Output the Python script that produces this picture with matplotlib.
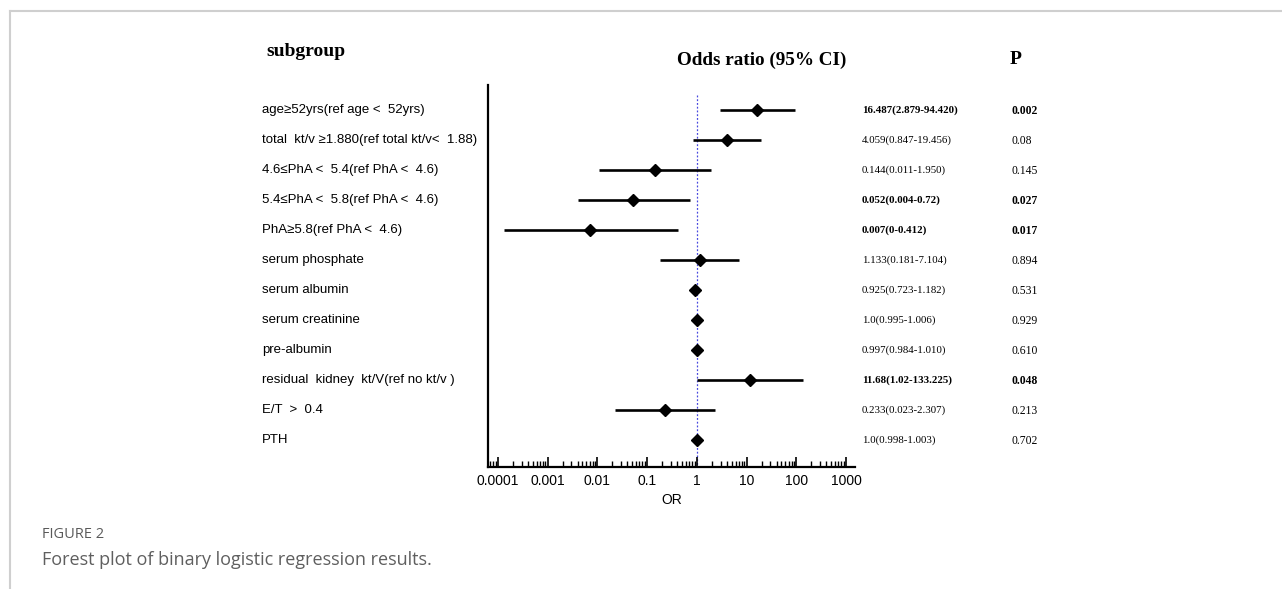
import numpy as np
import matplotlib
matplotlib.use("Agg")
import matplotlib.pyplot as plt
from matplotlib.lines import Line2D
from matplotlib.ticker import LogLocator, FixedLocator, NullFormatter

# data
subgroups = [
    "age\u226552yrs(ref age <  52yrs)",
    "total  kt/v \u22651.880(ref total kt/v<  1.88)",
    "4.6\u2264PhA <  5.4(ref PhA <  4.6)",
    "5.4\u2264PhA <  5.8(ref PhA <  4.6)",
    "PhA\u22655.8(ref PhA <  4.6)",
    "serum phosphate",
    "serum albumin",
    "serum creatinine",
    "pre-albumin",
    "residual  kidney  kt/V(ref no kt/v )",
    "E/T  >  0.4",
    "PTH",
]
odds = [16.487, 4.059, 0.144, 0.052, 0.007, 1.133, 0.925, 1.0, 0.997, 11.68, 0.233, 1.0]
ci_low = [2.879, 0.847, 0.011, 0.004, 0.00013, 0.181, 0.723, 0.995, 0.984, 1.02, 0.023, 0.998]
ci_high = [94.420, 19.456, 1.950, 0.72, 0.412, 7.104, 1.182, 1.006, 1.010, 133.225, 2.307, 1.003]
ci_text = ["16.487(2.879-94.420)", "4.059(0.847-19.456)", "0.144(0.011-1.950)",
           "0.052(0.004-0.72)", "0.007(0-0.412)", "1.133(0.181-7.104)",
           "0.925(0.723-1.182)", "1.0(0.995-1.006)", "0.997(0.984-1.010)",
           "11.68(1.02-133.225)", "0.233(0.023-2.307)", "1.0(0.998-1.003)"]
p_text = ["0.002", "0.08", "0.145", "0.027", "0.017", "0.894", "0.531",
          "0.929", "0.610", "0.048", "0.213", "0.702"]
significant = [True, False, False, True, True, False, False, False, False, True, False, False]

W, H = 1282, 589
fig = plt.figure(figsize=(W / 100, H / 100), dpi=100)

def fx(px):
    return px / W

def fy(py):
    return 1 - py / H

ax = fig.add_axes([fx(488), fy(467), fx(855) - fx(488), fy(85) - fy(467)])
rows = np.arange(1, len(odds) + 1)

ax.plot([1, 1], [0.5, 12.9], color="#4848e0", lw=0.9, ls=(0, (1.5, 1.5)), zorder=1)
ax.hlines(rows, ci_low, ci_high, color="black", lw=1.9, zorder=2)
ax.plot(odds, rows, ls="none", marker="D", ms=6.5, color="black", zorder=3)

ax.set_xscale("log")
ax.set_xlim(10 ** -4.2, 10 ** 3.18)
ax.set_ylim(12.9, 0.17)
ax.spines["top"].set_visible(False)
ax.spines["right"].set_visible(False)
ax.spines["left"].set_linewidth(1.6)
ax.spines["bottom"].set_linewidth(1.6)
ax.set_yticks([])
ticks = [1e-4, 1e-3, 1e-2, 1e-1, 1, 10, 100, 1000]
ax.xaxis.set_major_locator(FixedLocator(ticks))
ax.set_xticklabels(["0.0001", "0.001", "0.01", "0.1", "1", "10", "100", "1000"],
                   fontfamily="Liberation Sans", fontsize=10)
ax.xaxis.set_minor_locator(LogLocator(base=10, subs=np.arange(2, 10), numticks=20))
ax.xaxis.set_minor_formatter(NullFormatter())
ax.tick_params(axis="x", which="major", direction="in", length=7, width=1.2, pad=5)
ax.tick_params(axis="x", which="minor", direction="in", length=4, width=1.0)
ax.set_xlabel("OR", fontfamily="Liberation Sans", fontsize=10, labelpad=4)

# text columns
row_px = 110 + (rows - 1) * 30
for i, r in enumerate(row_px):
    fig.text(fx(262), fy(r), subgroups[i], ha="left", va="center",
             fontfamily="Liberation Sans", fontsize=9.5)
    w = "bold" if significant[i] else "normal"
    fig.text(fx(862), fy(r), ci_text[i], ha="left", va="center",
             fontfamily="Liberation Serif", fontsize=7.8, fontweight=w)
    fig.text(fx(1011), fy(r + 1), p_text[i], ha="left", va="center",
             fontfamily="Liberation Serif", fontsize=8.4, fontweight=w)

fig.text(fx(266), fy(52), "subgroup", ha="left", va="center",
         fontfamily="Liberation Serif", fontsize=14, fontweight="bold")
fig.text(fx(762), fy(60), "Odds ratio (95% CI)", ha="center", va="center",
         fontfamily="Liberation Serif", fontsize=13.8, fontweight="bold")
fig.text(fx(1010), fy(60), "P", ha="left", va="center",
         fontfamily="Liberation Serif", fontsize=14, fontweight="bold")

# caption
fig.text(fx(42), fy(535), "FIGURE 2", ha="left", va="center",
         fontfamily="Open Sans", fontsize=10.5, color="#5a5a5a")
fig.text(fx(42), fy(560), "Forest plot of binary logistic regression results.",
         ha="left", va="center", fontfamily="Open Sans", fontsize=13, color="#5f5f5f")

# page frame
fig.add_artist(Line2D([fx(10), 1], [fy(11), fy(11)], color="#cfcfcf", lw=1.5))
fig.add_artist(Line2D([fx(10), fx(10)], [fy(11), 0], color="#cfcfcf", lw=1.5))

fig.savefig("out.png", dpi=100)
